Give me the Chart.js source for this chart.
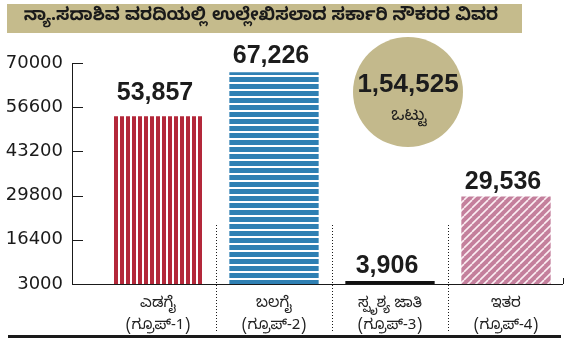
<!DOCTYPE html>
<html>
<head>
<meta charset="utf-8">
<script src="https://cdn.jsdelivr.net/npm/chart.js@4/dist/chart.umd.min.js"></script>
<style>
  html, body { margin: 0; padding: 0; background: #fff; }
  #wrap { width: 572px; height: 344px; }
</style>
</head>
<body>
<div id="wrap"><canvas id="jobsChart" width="572" height="344"></canvas></div>
<script>
// --- DATA ---
const titleText = 'ನ್ಯಾ.ಸದಾಶಿವ ವರದಿಯಲ್ಲಿ ಉಲ್ಲೇಖಿಸಲಾದ ಸರ್ಕಾರಿ ನೌಕರರ ವಿವರ';
const groupNames = ['ಎಡಗೈ', 'ಬಲಗೈ', 'ಸ್ಪೃಶ್ಯ ಜಾತಿ', 'ಇತರ'];
const groupTags = ['(ಗ್ರೂಪ್‌-1)', '(ಗ್ರೂಪ್‌-2)', '(ಗ್ರೂಪ್‌-3)', '(ಗ್ರೂಪ್‌-4)'];
const employees = [53857, 67226, 3906, 29536];
const yTicks = [3000, 16400, 29800, 43200, 56600, 70000];
const totalWord = 'ಒಟ್ಟು';

const KN_FONT = "'Noto Sans Kannada', 'Noto Sans', 'DejaVu Sans', sans-serif";
const NUM_FONT = "'Liberation Sans', Arial, sans-serif";

// --- NUMBER FORMATTING ---
const fmtWestern = (n) => String(n).replace(/\B(?=(\d{3})+(?!\d))/g, ',');
const fmtIndian = (n) => {
    const s = String(n);
    if (s.length <= 3) return s;
    const last3 = s.slice(-3);
    const rest = s.slice(0, -3).replace(/\B(?=(\d{2})+(?!\d))/g, ',');
    return rest + ',' + last3;
};

// --- BAR PATTERNS ---
const makePattern = (w, h, paint) => {
    const c = document.createElement('canvas');
    c.width = w; c.height = h;
    const g = c.getContext('2d');
    paint(g, w, h);
    return g.createPattern(c, 'repeat');
};

const redStripes = makePattern(6, 10, (g, w, h) => {
    g.fillStyle = '#fff'; g.fillRect(0, 0, w, h);
    g.fillStyle = '#b3283a'; g.fillRect(0, 0, 4, h);
});
const blueStripes = makePattern(10, 7, (g, w, h) => {
    g.fillStyle = '#fff'; g.fillRect(0, 0, w, h);
    g.fillStyle = '#2f80b3'; g.fillRect(0, 0, w, 5);
});
const pinkStripes = makePattern(8, 8, (g, w, h) => {
    g.fillStyle = '#c47f9c'; g.fillRect(0, 0, w, h);
    g.strokeStyle = '#fbeef3'; g.lineWidth = 1.6;
    for (let k = -1; k <= 1; k++) {
        g.beginPath();
        g.moveTo(k * w, h);
        g.lineTo(k * w + w, 0);
        g.stroke();
    }
});
const barFills = [redStripes, blueStripes, '#111111', pinkStripes];

// --- BACKDROP: title band and total bubble ---
const backdrop = {
    id: 'backdrop',
    beforeDraw(chart) {
        const { ctx } = chart;
        ctx.save();
        ctx.fillStyle = '#c5bb8c';
        ctx.fillRect(7, 4, 515, 29);
        ctx.fillStyle = '#1a1a1a';
        ctx.textAlign = 'center';
        ctx.textBaseline = 'middle';
        ctx.font = 'bold 17.5px ' + KN_FONT;
        ctx.fillText(titleText, 261, 18);
        ctx.restore();
    },
    afterDatasetsDraw(chart) {
        const { ctx } = chart;
        const total = employees.reduce((a, b) => a + b, 0);
        ctx.save();
        ctx.fillStyle = '#c3b98c';
        ctx.beginPath();
        ctx.arc(408, 92, 55, 0, Math.PI * 2);
        ctx.fill();
        ctx.fillStyle = '#1c1c1c';
        ctx.textAlign = 'center';
        ctx.textBaseline = 'alphabetic';
        ctx.font = 'bold 26px ' + NUM_FONT;
        ctx.fillText(fmtIndian(total), 408, 92);
        ctx.font = '17px ' + KN_FONT;
        ctx.fillText(totalWord, 409, 120);
        ctx.restore();
    }
};

// --- AXES, SEPARATORS AND VALUE LABELS ---
const labelLift = [16, 9, 8, 7];
const axesAndLabels = {
    id: 'axesAndLabels',
    afterDraw(chart) {
        const { ctx, chartArea } = chart;
        const x = chart.scales.x;
        const y = chart.scales.y;
        const axisX = 72;
        const base = y.getPixelForValue(yTicks[0]);
        ctx.save();
        ctx.strokeStyle = '#1a1a1a';
        ctx.lineWidth = 1;

        // y axis with inward ticks
        ctx.beginPath();
        ctx.moveTo(axisX + 0.5, y.getPixelForValue(yTicks[yTicks.length - 1]));
        ctx.lineTo(axisX + 0.5, base);
        yTicks.forEach(v => {
            const py = Math.round(y.getPixelForValue(v)) + 0.5;
            ctx.moveTo(axisX, py);
            ctx.lineTo(axisX + 11, py);
        });
        // x axis with end tick
        const right = chartArea.right - 1;
        ctx.moveTo(axisX, Math.round(base) + 0.5);
        ctx.lineTo(right, Math.round(base) + 0.5);
        ctx.moveTo(right + 0.5, base - 6);
        ctx.lineTo(right + 0.5, base);
        ctx.stroke();

        // dotted separators between groups
        ctx.setLineDash([1, 2]);
        for (let i = 0; i < employees.length - 1; i++) {
            const sx = Math.round((x.getPixelForValue(i) + x.getPixelForValue(i + 1)) / 2) + 0.5;
            ctx.beginPath();
            ctx.moveTo(sx, 225);
            ctx.lineTo(sx, 333);
            ctx.stroke();
        }
        ctx.setLineDash([]);

        // heavy rule along the bottom
        ctx.fillStyle = '#1a1a1a';
        ctx.fillRect(8, 335, 553, 3);

        // value labels above the bars
        ctx.fillStyle = '#1c1c1c';
        ctx.textAlign = 'center';
        ctx.textBaseline = 'alphabetic';
        ctx.font = 'bold 25px ' + NUM_FONT;
        chart.getDatasetMeta(0).data.forEach((bar, i) => {
            ctx.fillText(fmtWestern(employees[i]), bar.x - 3, bar.y - labelLift[i]);
        });
        ctx.restore();
    }
};

new Chart(document.getElementById('jobsChart'), {
    type: 'bar',
    data: {
        labels: groupNames.map((n, i) => [n, groupTags[i]]),
        datasets: [{
            data: employees,
            backgroundColor: barFills,
            borderWidth: 0,
            barPercentage: 0.77,
            categoryPercentage: 1
        }]
    },
    options: {
        responsive: false,
        animation: false,
        layout: { padding: { left: 0, right: 8, top: 63, bottom: 0 } },
        plugins: {
            legend: { display: false },
            tooltip: { enabled: false },
            title: { display: false }
        },
        scales: {
            x: {
                grid: { display: false, drawTicks: false },
                border: { display: false },
                ticks: {
                    color: '#222',
                    font: { family: KN_FONT, size: 15, lineHeight: 1.45 },
                    padding: 11,
                    maxRotation: 0
                },
                afterFit: (s) => { s.height = 60; }
            },
            y: {
                min: yTicks[0],
                max: yTicks[yTicks.length - 1],
                grid: { display: false, drawTicks: false },
                border: { display: false },
                afterBuildTicks: (s) => { s.ticks = yTicks.map(v => ({ value: v })); },
                ticks: {
                    color: '#1a1a1a',
                    font: { family: "'DejaVu Sans', sans-serif", size: 18 },
                    padding: 37,
                    callback: (v) => String(v)
                },
                afterFit: (s) => { s.width = 100; }
            }
        }
    },
    plugins: [backdrop, axesAndLabels]
});
</script>
</body>
</html>
